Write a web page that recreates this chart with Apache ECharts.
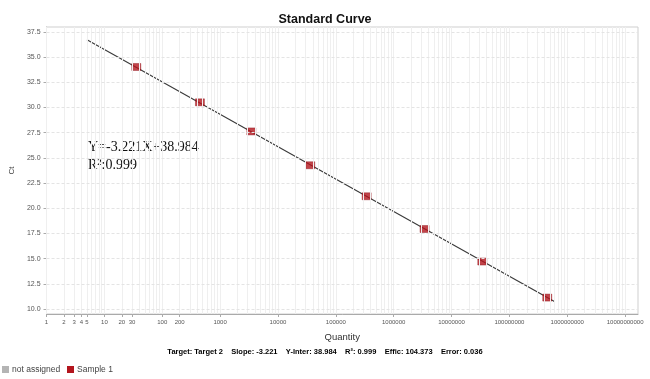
<!DOCTYPE html>
<html><head><meta charset="utf-8">
<script src="https://cdn.jsdelivr.net/npm/echarts@6/dist/echarts.min.js"></script>
<style>html,body{margin:0;padding:0;background:#fff}#c{width:650px;height:379px}</style>
</head><body><div id="c"></div>
<script>
// ---- data ----
const quantities = [35.6, 448, 3467, 36140, 341000, 3420000, 34000000, 451000000];
const ctValues   = [34.03, 30.52, 27.63, 24.27, 21.19, 17.94, 14.71, 11.13];
const fitQ  = [5, 600000000];
const fitCt = [36.73, 10.74];
const xTickLabels = [1, 2, 3, 4, 5, 10, 20, 30, 100, 200, 1000, 10000, 100000, 1000000, 10000000, 100000000, 1000000000, 10000000000];
const yTickLabels = [10, 12.5, 15, 17.5, 20, 22.5, 25, 27.5, 30, 32.5, 35, 37.5];
const decades = [1, 10, 100, 1000, 10000, 100000, 1000000, 10000000, 100000000, 1000000000];
const subSteps = [1, 2, 3, 4, 5, 6, 7, 8, 9];
const footerItems = [["Target:", "Target 2"], ["Slope:", "-3.221"], ["Y-Inter:", "38.984"], ["R²:", "0.999"], ["Effic:", "104.373"], ["Error:", "0.036"]];
const equationText = ["Y=-3.221X+38.984", "R²:0.999"];

const minorX = [];
decades.forEach(d => subSteps.forEach(s => minorX.push(d * s)));
minorX.push(10000000000);

const chart = echarts.init(document.getElementById('c'), null, {renderer: 'canvas'});
const rich = {lab: {color: '#2446b8', fontSize: 7.5, fontWeight: 'bold', fontFamily: 'Liberation Sans'},
              val: {color: '#333', fontSize: 7.5, fontWeight: 'bold', fontFamily: 'Liberation Sans'}};
const footer = footerItems.map(p => '{lab|' + p[0] + '} {val|' + p[1] + '}').join('    ');

chart.setOption({
  animation: false,
  backgroundColor: '#fff',
  title: {text: 'Standard Curve', left: 'center', top: 8,
    textStyle: {fontSize: 12.5, fontWeight: 'bold', color: '#111', fontFamily: 'Liberation Sans'}},
  grid: {left: 43, right: 12, top: 27, bottom: 65, show: true, borderColor: '#cfcfcf', borderWidth: 1},
  xAxis: {type: 'log', logBase: 10, min: 1, max: 16700000000,
    name: 'Quantity', nameLocation: 'middle', nameGap: 18,
    nameTextStyle: {fontSize: 9.5, color: '#333', fontFamily: 'Liberation Sans'},
    axisLine: {show: true, lineStyle: {color: '#aaa'}},
    axisTick: {show: true, length: 3, lineStyle: {color: '#aaa'}, customValues: xTickLabels},
    axisLabel: {fontSize: 6, color: '#555', margin: 5, customValues: xTickLabels,
      formatter: v => String(Math.round(v))},
    splitLine: {show: false}, minorSplitLine: {show: false}},
  yAxis: {type: 'value', min: 9.5, max: 38,
    name: 'Ct', nameLocation: 'middle', nameGap: 29, nameRotate: 90,
    nameTextStyle: {fontSize: 8, color: '#444', fontFamily: 'Liberation Sans'},
    axisLine: {show: true, lineStyle: {color: '#aaa'}},
    axisTick: {show: true, length: 3, lineStyle: {color: '#aaa'}, customValues: yTickLabels},
    axisLabel: {fontSize: 7, color: '#555', margin: 6, customValues: yTickLabels,
      formatter: v => v.toFixed(1)},
    splitLine: {show: false}},
  series: [
    {type: 'line', data: [], silent: true, z: 1,
     markLine: {symbol: 'none', silent: true, label: {show: false},
       lineStyle: {color: '#efefef', width: 1, type: 'solid'},
       data: minorX.map(v => ({xAxis: v}))}},
    {type: 'line', data: [], silent: true, z: 1,
     markLine: {symbol: 'none', silent: true, label: {show: false},
       lineStyle: {color: '#e4e4e4', width: 1, type: [3, 2]},
       data: yTickLabels.map(v => ({yAxis: v}))}},
    {type: 'line', data: fitQ.map((q, i) => [q, fitCt[i]]), showSymbol: false,
     lineStyle: {color: '#3a3a3a', width: 1.1}, z: 3},
    {type: 'scatter', data: quantities.map((q, i) => [q, ctValues[i]]),
     symbol: 'rect', symbolSize: [9, 7],
     itemStyle: {color: '#b3151d', borderColor: '#8a1016', borderWidth: 0.5}, z: 4}
  ],
  graphic: [
    {type: 'text', left: 88, top: 140, style: {text: equationText[0], font: '14px "Liberation Serif"', fill: '#111'}},
    {type: 'text', left: 88, top: 158, style: {text: equationText[1], font: '14px "Liberation Serif"', fill: '#111'}},
    {type: 'text', left: 'center', top: 348, style: {text: footer, rich: rich, font: 'bold 7.5px "Liberation Sans"'}},
    {type: 'rect', left: 2, top: 366, shape: {width: 7, height: 7}, style: {fill: '#b4b4b4'}},
    {type: 'text', left: 12, top: 365, style: {text: 'not assigned', font: '8.5px "Liberation Sans"', fill: '#444'}},
    {type: 'rect', left: 67, top: 366, shape: {width: 7, height: 7}, style: {fill: '#b3151d'}},
    {type: 'text', left: 77, top: 365, style: {text: 'Sample 1', font: '8.5px "Liberation Sans"', fill: '#444'}}
  ]
});
</script></body></html>
